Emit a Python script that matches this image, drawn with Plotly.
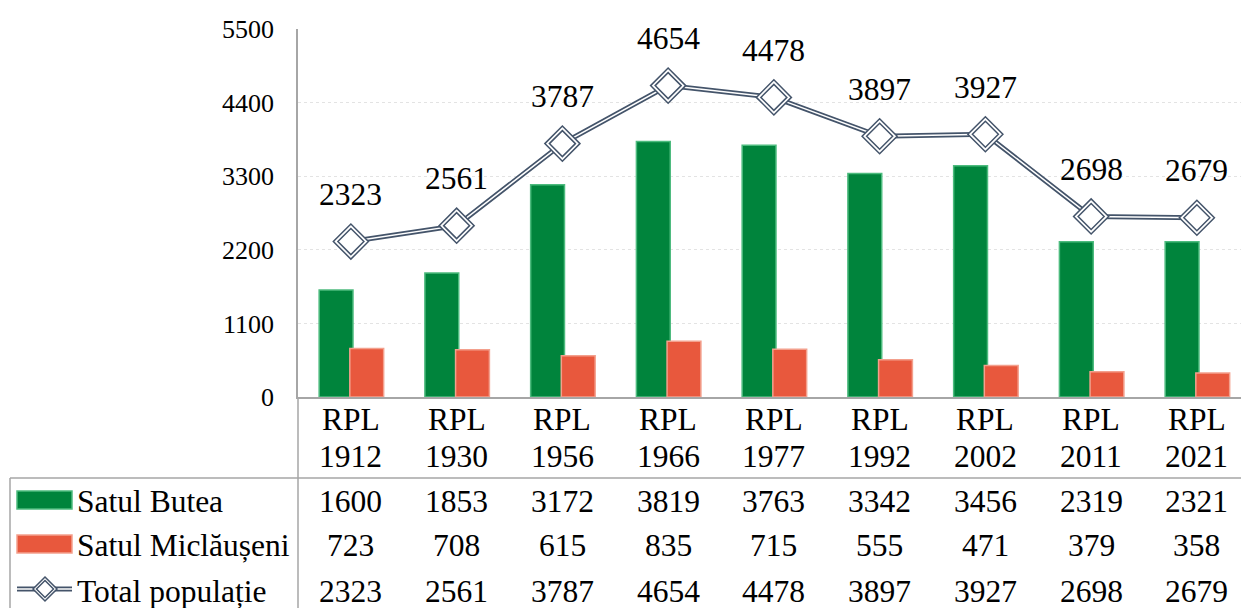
import plotly.graph_objects as go

# ---- data ----
census = ["RPL", "RPL", "RPL", "RPL", "RPL", "RPL", "RPL", "RPL", "RPL"]
years = ["1912", "1930", "1956", "1966", "1977", "1992", "2002", "2011", "2021"]
butea = [1600, 1853, 3172, 3819, 3763, 3342, 3456, 2319, 2321]
miclauseni = [723, 708, 615, 835, 715, 555, 471, 379, 358]
total = [2323, 2561, 3787, 4654, 4478, 3897, 3927, 2698, 2679]
series_names = ["Satul Butea", "Satul Miclăușeni", "Total populație"]
y_ticks = [0, 1100, 2200, 3300, 4400, 5500]

categories = [f"{c} {y}" for c, y in zip(census, years)]

# ---- style ----
W, H = 1241, 608
ML, MR, MT, MB = 298, 0, 29, 211
PW, PH = W - ML - MR, H - MT - MB
FONT = "Liberation Serif"
TXT = dict(family=FONT, size=31.5, color="black")
GREEN, GREEN_EDGE = "#00843C", "#4DBB7E"
RED, RED_EDGE = "#E8583D", "#F3A08D"
LINE = "#44546A"
AXIS = "#A6A6A6"
BOTTOM_PX = MT + PH  # pixel row of y=0


def px_x(p):
    return (p - ML) / PW


def px_y(p):
    return (BOTTOM_PX - p) / PH


fig = go.Figure()

fig.add_trace(go.Bar(x=categories, y=butea, name=series_names[0],
                     marker=dict(color=GREEN, line=dict(color=GREEN_EDGE, width=1.5)),
                     width=0.32, offset=-0.30, showlegend=False))
fig.add_trace(go.Bar(x=categories, y=miclauseni, name=series_names[1],
                     marker=dict(color=RED, line=dict(color=RED_EDGE, width=1.5)),
                     width=0.32, offset=-0.01, showlegend=False))
# double line
fig.add_trace(go.Scatter(x=categories, y=total, mode="lines", name=series_names[2],
                         line=dict(color=LINE, width=5), showlegend=False, cliponaxis=False))
fig.add_trace(go.Scatter(x=categories, y=total, mode="lines",
                         line=dict(color="white", width=1.5), showlegend=False, cliponaxis=False))
# double-outlined diamond markers
fig.add_trace(go.Scatter(x=categories, y=total, mode="markers",
                         marker=dict(symbol="diamond", size=27, color="white",
                                     line=dict(color=LINE, width=1.5)),
                         showlegend=False, cliponaxis=False))
fig.add_trace(go.Scatter(x=categories, y=total, mode="markers",
                         marker=dict(symbol="diamond", size=20, color="white",
                                     line=dict(color=LINE, width=1.5)),
                         showlegend=False, cliponaxis=False))

annotations = []
# data labels above line points
for c, v in zip(categories, total):
    annotations.append(dict(x=c, y=v, xref="x", yref="y", text=str(v), showarrow=False,
                            xanchor="center", yanchor="middle", yshift=47, font=TXT))

# category labels (two lines) and table
LBL1_Y, LBL2_Y = 419, 456
ROWS_Y = [501, 545, 591]
for i, c in enumerate(categories):
    annotations.append(dict(x=c, y=px_y(LBL1_Y), xref="x", yref="paper", text=census[i],
                            xanchor="center", yanchor="middle", showarrow=False, font=TXT))
    annotations.append(dict(x=c, y=px_y(LBL2_Y), xref="x", yref="paper", text=years[i],
                            xanchor="center", yanchor="middle", showarrow=False, font=TXT))
    for vals, ry in zip([butea, miclauseni, total], ROWS_Y):
        annotations.append(dict(x=c, y=px_y(ry), xref="x", yref="paper", text=str(vals[i]),
                                xanchor="center", yanchor="middle", showarrow=False, font=TXT))

for name, ry in zip(series_names, ROWS_Y):
    annotations.append(dict(x=px_x(75), y=px_y(ry), xref="paper", yref="paper", text=name,
                            xanchor="left", yanchor="middle", showarrow=False, font=TXT))

shapes = []
# table lines
shapes.append(dict(type="line", xref="paper", yref="paper", x0=px_x(10), x1=1,
                   y0=px_y(478), y1=px_y(478), line=dict(color=AXIS, width=1.5)))
shapes.append(dict(type="line", xref="paper", yref="paper", x0=px_x(10), x1=px_x(10),
                   y0=px_y(478), y1=px_y(H + 5), line=dict(color=AXIS, width=1.5)))
shapes.append(dict(type="line", xref="paper", yref="paper", x0=0, x1=0,
                   y0=0, y1=px_y(H + 5), line=dict(color=AXIS, width=1.5)))
# legend keys
shapes.append(dict(type="rect", xref="paper", yref="paper", x0=px_x(17), x1=px_x(72),
                   y0=px_y(509), y1=px_y(491), fillcolor=GREEN,
                   line=dict(color=GREEN_EDGE, width=1.5)))
shapes.append(dict(type="rect", xref="paper", yref="paper", x0=px_x(17), x1=px_x(72),
                   y0=px_y(553), y1=px_y(535), fillcolor=RED,
                   line=dict(color=RED_EDGE, width=1.5)))
LY = 589
shapes.append(dict(type="line", xref="paper", yref="paper", x0=px_x(17), x1=px_x(72),
                   y0=px_y(LY), y1=px_y(LY), line=dict(color=LINE, width=5)))
shapes.append(dict(type="line", xref="paper", yref="paper", x0=px_x(17), x1=px_x(72),
                   y0=px_y(LY), y1=px_y(LY), line=dict(color="white", width=1.5)))


def diamond(cx, cy, r):
    pts = [(cx, cy - r), (cx + r, cy), (cx, cy + r), (cx - r, cy)]
    return "M " + " L ".join(f"{px_x(a):.5f},{px_y(b):.5f}" for a, b in pts) + " Z"


shapes.append(dict(type="path", xref="paper", yref="paper", path=diamond(45, LY, 12),
                   fillcolor="white", line=dict(color=LINE, width=1.5)))
shapes.append(dict(type="path", xref="paper", yref="paper", path=diamond(45, LY, 8.5),
                   fillcolor="white", line=dict(color=LINE, width=1.5)))

fig.update_layout(
    width=W, height=H,
    margin=dict(l=ML, r=MR, t=MT, b=MB, pad=0),
    paper_bgcolor="white", plot_bgcolor="white",
    barmode="overlay",
    font=dict(family=FONT, size=26, color="black"),
    annotations=annotations, shapes=shapes,
    xaxis=dict(type="category", categoryorder="array", categoryarray=categories,
               range=[-0.5, -0.5 + PW / 105.75], showticklabels=False, showgrid=False,
               showline=True, linecolor=AXIS, linewidth=1.5, ticks="", zeroline=False),
    yaxis=dict(range=[0, 5500], tickvals=y_ticks, showgrid=True, gridcolor="#E3E3E3",
               griddash="dot", gridwidth=1, showline=True, linecolor=AXIS, linewidth=1.5,
               ticks="", ticklabelstandoff=17, zeroline=False,
               tickfont=dict(family=FONT, size=26, color="black")),
    showlegend=False,
)

fig.write_html("out.html", config={"displayModeBar": False},
               post_script="document.body.style.margin='0';document.body.style.padding='0';")
